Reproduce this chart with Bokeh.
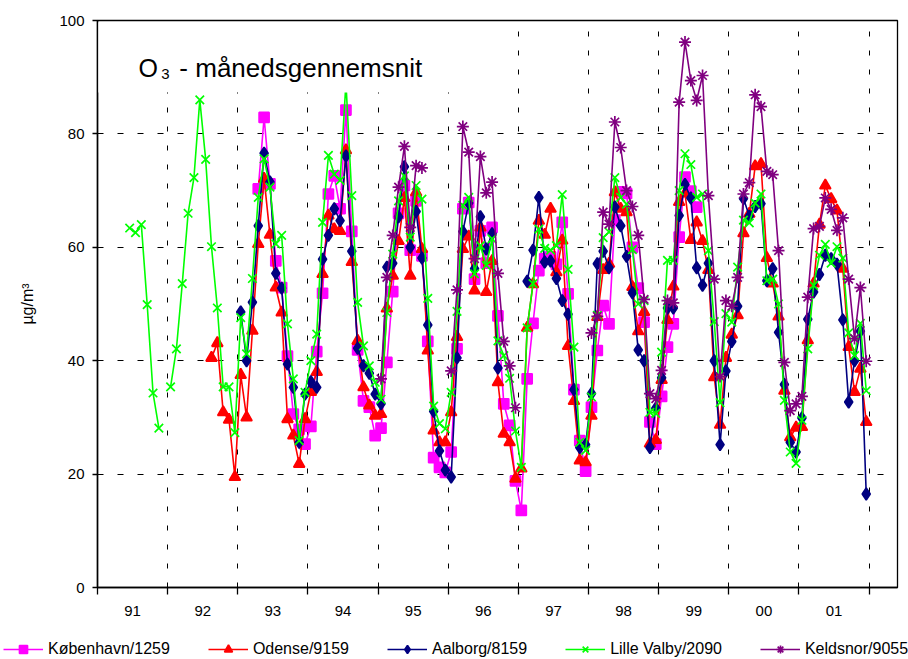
import math
from bokeh.plotting import figure
from bokeh.layouts import column, row
from bokeh.models import (Range1d, FixedTicker, ColumnDataSource, Legend,
                          LegendItem, BoxAnnotation, Label)
from bokeh.embed import file_html
from bokeh.resources import INLINE

N = None

# tick labels (one per year, Jan 1991 .. Dec 2001, monthly values)
year_labels = ["91", "92", "93", "94", "95", "96", "97", "98", "99", "00", "01"]

# --- København/1259 (monthly mean O3, µg/m3) ---
kobenhavn = [
    N, N, N, N, N, N, N, N, N, N, N, N,
    N, N, N, N, N, N, N, N, N, N, N, N,
    N, N, N, 70.3, 82.9, 71.2, 57.6, 52.9, 40.8, 30.6, 27.9, 25.3,
    28.4, 41.6, 51.9, 69.4, 72.6, 66.8, 84.2, 62.8, 41.9, 32.9, 31.8, 26.8,
    28.1, 39.7, 52.2, 66.0, 70.9, 59.5, 68.2, 58.5, 43.4, 22.9, 21.2, 20.3,
    23.9, 42.1, 66.8, 67.9, 54.4, 62.9, 57.2, 63.5, 47.9, 32.4, 28.6, 18.8,
    13.6, 36.8, 46.6, 55.9, 58.0, 58.3, 57.0, 64.4, 51.8, 34.9, 25.9, 20.5,
    31.8, 41.8, 49.7, 46.5, 64.8, 69.8, 69.5, 60.0, 52.8, 46.8, 29.2, 25.3,
    33.7, 42.4, 46.5, 61.8, 72.4, 69.9, 67.1, N, N, N, N, N,
    N, N, N, N, N, N, N, N, N, N, N, N,
    N, N, N, N, N, N, N, N, N, N, N, N,
]

# --- Odense/9159 ---
odense = [
    N, N, N, N, N, N, N, N, N, N, N, N,
    N, N, N, N, N, N, N, 40.5, 43.1, 30.9, 29.6, 19.5,
    37.5, 30.0, 45.3, 60.6, 72.1, 62.2, 52.9, 48.5, 29.7, 26.8, 21.8, 29.7,
    34.5, 38.0, 55.3, 65.6, 63.2, 62.9, 77.1, 57.4, 43.5, 35.3, 32.1, 30.3,
    30.6, 49.2, 55.0, 61.1, 68.7, 55.0, 69.7, 59.7, 41.8, 27.7, 25.6, 25.6,
    30.9, 44.2, 59.7, 61.9, 52.4, 63.5, 52.1, 57.6, 36.2, 27.1, 25.6, 19.2,
    21.0, 45.8, 53.5, 64.7, 62.2, 66.8, 55.6, 61.2, 42.6, 32.9, 22.4, 22.1,
    30.3, 47.7, 56.0, 57.1, 69.7, 66.8, 66.2, 53.0, 45.2, 48.6, 25.4, 26.0,
    36.6, 47.2, 53.1, 68.0, 69.5, 61.3, 64.4, 61.1, 56.0, 37.1, 28.7, 40.5,
    44.6, 48.0, 62.5, 65.9, 74.3, 74.7, 58.1, 53.6, 47.8, 34.7, 26.5, 28.2,
    28.3, 43.6, 53.6, 64.0, 70.9, 68.5, 66.5, 56.2, 42.4, 34.5, 38.6, 29.2,
]

# --- Aalborg/8159 ---
aalborg = [
    N, N, N, N, N, N, N, N, N, N, N, N,
    N, N, N, N, N, N, N, N, N, N, N, N,
    48.6, 40.0, 50.3, 63.8, 76.6, 71.5, 55.4, 52.8, 39.4, 35.3, 25.6, 34.1,
    36.3, 35.3, 57.9, 62.1, 66.8, 64.7, 76.1, 59.3, 42.2, 39.1, 37.8, 34.1,
    32.4, 56.5, 57.2, 65.4, 74.2, 60.0, 66.3, 58.1, 46.3, 31.1, 24.1, 20.7,
    19.5, 40.5, 62.8, 67.8, 56.2, 65.4, 59.7, 62.4, 38.7, N, N, N,
    N, 54.0, 59.5, 68.8, 57.4, 57.6, 54.5, 50.6, 48.2, 34.9, 24.7, 25.2,
    34.2, 57.1, 59.3, 56.4, 67.1, 63.8, 58.4, 52.0, 41.9, 40.0, 24.7, 31.6,
    37.0, 49.3, 49.3, 65.6, 71.1, 68.7, 56.4, 53.3, 57.2, 40.0, 25.2, 38.2,
    43.4, 49.6, 68.6, 65.5, 67.2, 67.7, 54.1, 56.2, 45.0, 35.8, 25.6, 23.9,
    29.9, 47.3, 52.1, 55.2, 58.6, 58.0, 57.0, 47.2, 32.7, 40.0, 45.2, 16.5,
]

# --- Lille Valby/2090 ---
lille_valby = [
    N, N, N, N, N, 63.4, 62.6, 64.0, 49.9, 34.3, 28.1, N,
    35.4, 42.1, 53.6, 66.0, 72.3, 86.0, 75.5, 60.1, 49.3, 35.4, 35.4, 27.3,
    47.6, 41.2, 54.5, 68.8, 75.6, 70.6, 60.6, 62.1, 46.5, 36.8, 25.9, 34.4,
    40.0, 44.7, 64.4, 76.2, 72.9, 71.8, 89.0, 69.1, 50.3, 42.6, 39.1, 36.2,
    33.2, 48.5, 58.8, 68.2, 72.6, 61.8, 70.9, 68.5, 51.0, 32.0, 28.9, 28.0,
    34.4, 48.7, 67.4, 68.8, 55.3, 60.3, 56.8, 61.5, 43.5, 40.9, 36.9, 27.6,
    21.2, 45.8, 53.6, 63.2, 59.8, 59.5, 60.3, 69.3, 56.1, 42.4, 25.6, 24.2,
    33.6, 48.0, 61.7, 62.7, 72.3, 68.8, 67.6, 59.6, 50.0, 50.6, 30.9, 30.7,
    41.5, 57.7, 57.7, 70.0, 76.5, 74.6, 68.8, 69.4, 59.4, 46.9, 32.6, 48.3,
    46.8, 56.5, 64.8, 64.3, 67.8, 69.4, 54.1, 54.4, 50.0, 33.0, 23.9, 21.9,
    29.5, 42.1, 53.3, 58.6, 60.5, 57.2, 60.1, 58.1, 44.9, 40.9, 46.6, 34.7,
]

# --- Keldsnor/9055 ---
keldsnor = [
    N, N, N, N, N, N, N, N, N, N, N, N,
    N, N, N, N, N, N, N, N, N, N, N, N,
    N, N, N, N, N, N, N, N, N, N, N, N,
    N, N, N, N, N, N, N, N, N, N, N, N,
    36.8, 54.7, 62.1, 70.6, 77.8, 63.5, 74.4, 74.0, N, N, N, N,
    38.2, 52.5, 81.3, 76.8, 58.0, 76.0, 69.6, 71.5, 55.4, 43.4, 39.1, 31.7,
    N, N, N, N, N, N, N, N, N, N, N, N,
    44.9, 47.8, 66.2, 64.1, 82.1, 77.6, 70.0, 67.2, 62.1, 50.8, 34.2, 33.3,
    38.3, 50.6, 50.2, 85.6, 96.2, 89.4, 85.9, 90.3, 69.1, 54.4, 37.2, 50.6,
    49.6, 54.7, 69.4, 71.4, 86.9, 84.8, 73.4, 72.8, 59.4, 39.7, 31.2, 32.4,
    33.7, 51.2, 63.3, 63.7, 68.7, 66.7, 63.0, 65.2, 54.4, 43.9, 52.9, 39.9,
]

series_names = ["København/1259", "Odense/9159", "Aalborg/8159",
                "Lille Valby/2090", "Keldsnor/9055"]
series_values = [kobenhavn, odense, aalborg, lille_valby, keldsnor]
series_colors = ["#FF00FF", "#FF0000", "#000080", "#00FF00", "#800080"]
series_markers = ["square", "triangle", "diamond", "x", "asterisk"]
series_sizes = [10, 11, 12, 12, 12]

n_months = 12 * len(year_labels)
months = [m + 0.5 for m in range(n_months)]

FONT = "Liberation Sans"

p = figure(width=908, height=630,
           x_range=Range1d(0, 136.85), y_range=Range1d(0, 100),
           output_backend="svg", toolbar_location=None,
           min_border_left=97, min_border_right=11,
           min_border_top=20, min_border_bottom=43)
p.background_fill_color = "white"
p.border_fill_color = "white"
p.outline_line_color = "black"
p.outline_line_width = 1.3

# axes
boundaries = [12 * i for i in range(len(year_labels) + 1)]
centers = [12 * i + 6 for i in range(len(year_labels))]
p.xaxis.ticker = FixedTicker(ticks=centers, minor_ticks=boundaries)
p.xaxis.major_label_overrides = {c: lab for c, lab in zip(centers, year_labels)}
p.xaxis.major_tick_out = 0
p.xaxis.major_tick_in = 0
p.xaxis.minor_tick_out = 7
p.xaxis.minor_tick_in = 0
p.xaxis.minor_tick_line_color = "black"
p.xaxis.minor_tick_line_width = 1.3
p.xaxis.major_label_standoff = 11
p.xaxis.axis_line_width = 1.5
p.xaxis.axis_line_color = "black"
p.xaxis.major_label_text_font = FONT
p.xaxis.major_label_text_font_size = "15px"
p.xaxis.major_label_text_color = "black"

p.yaxis.ticker = FixedTicker(ticks=[0, 20, 40, 60, 80, 100])
p.yaxis.major_tick_out = 5
p.yaxis.major_tick_in = 0
p.yaxis.minor_tick_out = 0
p.yaxis.minor_tick_in = 0
p.yaxis.major_tick_line_width = 1.3
p.yaxis.major_label_standoff = 8
p.yaxis.axis_line_width = 1.5
p.yaxis.axis_line_color = "black"
p.yaxis.major_label_text_font = FONT
p.yaxis.major_label_text_font_size = "15px"
p.yaxis.major_label_text_color = "black"
p.yaxis.axis_label = "µg/m³"
p.yaxis.axis_label_text_font = FONT
p.yaxis.axis_label_text_font_size = "16px"
p.yaxis.axis_label_text_font_style = "normal"
p.yaxis.axis_label_text_color = "black"
p.yaxis.axis_label_standoff = 20

# grids
p.xgrid.ticker = FixedTicker(ticks=boundaries[1:])
p.xgrid.grid_line_color = "black"
p.xgrid.grid_line_dash = "5 14"
p.xgrid.grid_line_width = 1
p.ygrid.ticker = FixedTicker(ticks=[20, 40, 60, 80])
p.ygrid.grid_line_color = "black"
p.ygrid.grid_line_dash = "6 14"
p.ygrid.grid_line_width = 1

for vals, col, mk, sz in zip(series_values, series_colors,
                             series_markers, series_sizes):
    y = [float("nan") if v is None else v for v in vals]
    src = ColumnDataSource(dict(x=months, y=y))
    p.line("x", "y", source=src, line_color=col, line_width=1.6)
    p.scatter("x", "y", source=src, marker=mk, size=sz,
              fill_color=col, line_color=col, line_width=1.7)

# white title box (hides grid / data behind chart title)
p.add_layout(BoxAnnotation(left=0.15, right=63, bottom=87.3, top=99.7,
                           fill_color="white", fill_alpha=1.0,
                           line_alpha=0))
p.add_layout(Label(x=7.0, y=91.7, text="O", text_font=FONT,
                   text_font_size="25px", text_color="black",
                   text_baseline="alphabetic"))
p.add_layout(Label(x=10.9, y=90.6, text="3", text_font=FONT,
                   text_font_size="15px", text_color="black",
                   text_baseline="alphabetic"))
p.add_layout(Label(x=14.0, y=91.7, text="- månedsgennemsnit", text_font=FONT,
                   text_font_size="26px", text_color="black",
                   text_baseline="alphabetic"))

# legend strip below the chart (its own small figure)
lg = figure(width=908, height=29, x_range=Range1d(0, 1), y_range=Range1d(0, 1),
            output_backend="svg", toolbar_location=None,
            x_axis_type=None, y_axis_type=None,
            min_border_left=0, min_border_right=0,
            min_border_top=0, min_border_bottom=0)
lg.outline_line_color = None
lg.grid.visible = False
lg.background_fill_color = "white"
lg.border_fill_color = "white"

items = []
for name, col, mk, sz in zip(series_names, series_colors,
                             series_markers, series_sizes):
    src = ColumnDataSource(dict(x=[-10.0], y=[-10.0]))
    ln = lg.line("x", "y", source=src, line_color=col, line_width=1.6)
    sc = lg.scatter("x", "y", source=src, marker=mk, size=sz,
                    fill_color=col, line_color=col, line_width=1.7)
    items.append(LegendItem(label=name, renderers=[ln, sc]))

legend = Legend(items=items, orientation="horizontal", location=(3, 0),
                spacing=38, padding=0, margin=0, label_standoff=5,
                glyph_width=40, glyph_height=20,
                label_text_font=FONT, label_text_font_size="16px",
                label_text_color="black",
                border_line_alpha=0, background_fill_alpha=0)
lg.add_layout(legend)

layout = column(p, row(lg, spacing=0), spacing=0)
open("out.html", "w").write(file_html(layout, INLINE))
